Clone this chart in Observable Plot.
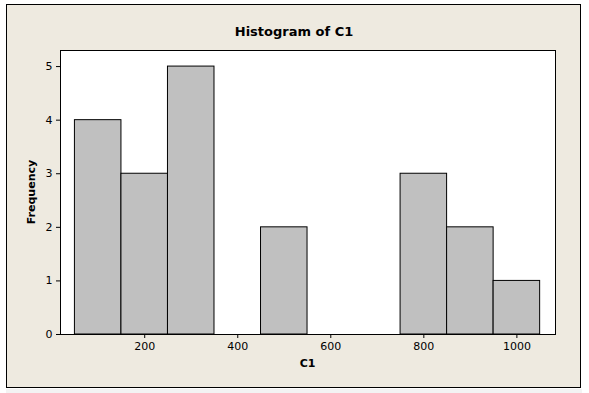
<!DOCTYPE html>
<html>
<head>
<meta charset="utf-8">
<script src="https://cdn.jsdelivr.net/npm/d3@7"></script>
<script src="https://cdn.jsdelivr.net/npm/@observablehq/plot@0.6"></script>
<style>
  html, body { margin: 0; padding: 0; background: #ffffff; }
  #wrap { position: relative; width: 589px; height: 393px; overflow: hidden; font-family: "DejaVu Sans", sans-serif; }
  #outer { position: absolute; left: 6px; top: 4px; width: 573px; height: 382px; background: #eeeae0; border: 1.5px solid #000; }
  #strip { position: absolute; left: 6px; top: 389px; width: 576px; height: 4px; background: #f3f3f3; }
  #chart { position: absolute; left: 0; top: 0; }
  #title { position: absolute; left: 6px; width: 576px; top: 24px; text-align: center; font-weight: bold; font-size: 13px; color: #000; }
  #xlabel { position: absolute; left: 60px; width: 495px; top: 357px; text-align: center; font-weight: bold; font-size: 11px; color: #000; }
  #ylabel { position: absolute; left: 31px; top: 192px; transform: translate(-50%, -50%) rotate(-90deg); font-weight: bold; font-size: 11px; color: #000; white-space: nowrap; }
</style>
</head>
<body>
<div id="wrap">
  <div id="outer"></div>
  <div id="strip"></div>
  <div id="chart"></div>
  <div id="title">Histogram of C1</div>
  <div id="xlabel">C1</div>
  <div id="ylabel">Frequency</div>
</div>
<script>
// Histogram bins (C1) and their frequencies
const binStart = [50, 150, 250, 450, 750, 850, 950];
const binEnd   = [150, 250, 350, 550, 850, 950, 1050];
const counts   = [4, 3, 5, 2, 3, 2, 1];
const xTicks = [200, 400, 600, 800, 1000];
const yTicks = [0, 1, 2, 3, 4, 5];

const data = binStart.map((s, i) => ({x1: s, x2: binEnd[i], count: counts[i]}));

const chart = Plot.plot({
  width: 589,
  height: 393,
  marginLeft: 60,
  marginTop: 50,
  marginRight: 34,
  marginBottom: 59,
  style: {background: "transparent", fontFamily: "DejaVu Sans, sans-serif", fontSize: "11px", color: "#000"},
  x: {domain: [19, 1083], label: null},
  y: {domain: [0, 5.3], label: null},
  marks: [
    Plot.frame({fill: "white", stroke: null}),
    Plot.rectY(data, {x1: "x1", x2: "x2", y: "count", fill: "#c0c0c0", stroke: "#000", strokeWidth: 1}),
    Plot.frame({stroke: "#000", strokeWidth: 1}),
    Plot.axisX({ticks: xTicks, tickFormat: d => String(d), tickSize: 4, tickPadding: 4, label: null, stroke: "#000"}),
    Plot.axisY({ticks: yTicks, tickFormat: d => String(d), tickSize: 4, tickPadding: 4, label: null, stroke: "#000"})
  ]
});
document.getElementById("chart").appendChild(chart);
</script>
</body>
</html>
